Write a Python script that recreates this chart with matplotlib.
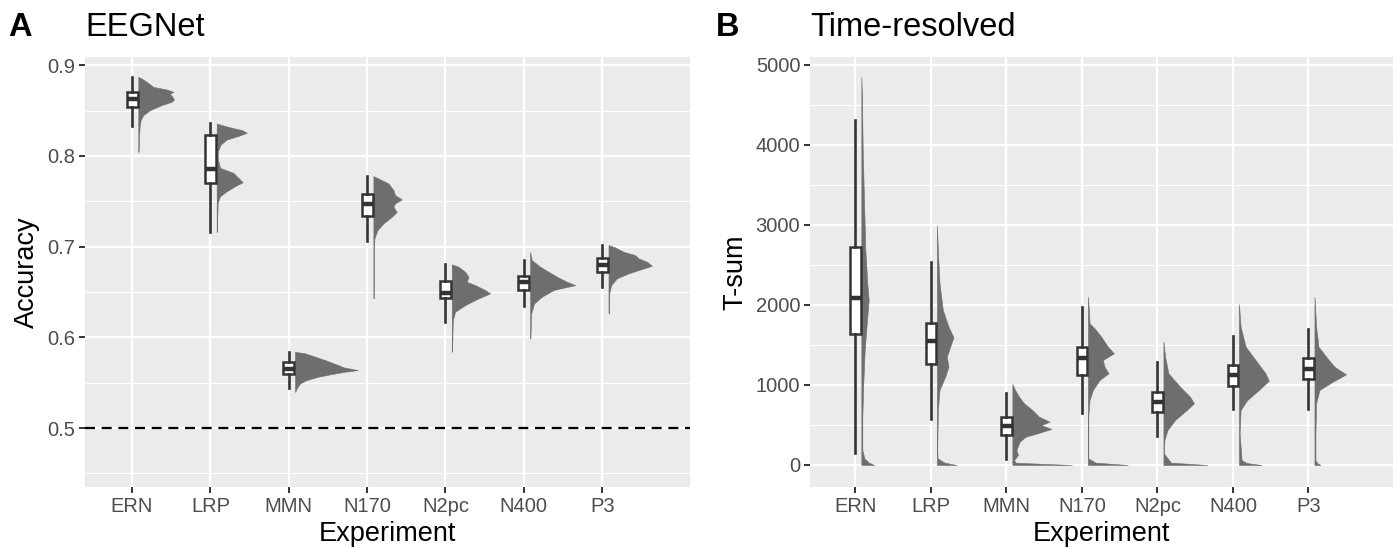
import matplotlib.pyplot as plt
from matplotlib.ticker import MultipleLocator

plt.rcParams['font.family'] = ['Liberation Sans', 'DejaVu Sans']

experiments = ["ERN", "LRP", "MMN", "N170", "N2pc", "N400", "P3"]

# box stats per experiment: lower whisker, q1, median, q3, upper whisker
acc_box = [
    [0.833, 0.854, 0.8625, 0.8706, 0.887],
    [0.7163, 0.7696, 0.785, 0.8229, 0.8357],
    [0.5437, 0.5592, 0.5655, 0.573, 0.5841],
    [0.7064, 0.7336, 0.7465, 0.7578, 0.7777],
    [0.6171, 0.6429, 0.6488, 0.6624, 0.6804],
    [0.6344, 0.6521, 0.661, 0.6679, 0.6851],
    [0.6557, 0.6723, 0.680, 0.687, 0.7017],
]
tsum_box = [
    [146, 1638, 2083, 2721, 4312],
    [571, 1258, 1550, 1779, 2542],
    [71, 375, 487, 596, 896],
    [646, 1125, 1333, 1479, 1971],
    [362, 658, 792, 917, 1283],
    [696, 987, 1125, 1250, 1612],
    [696, 1071, 1196, 1333, 1696],
]

# half-violin outlines: y values and density width (x units)
acc_vio_y = [
    [0.887, 0.8853, 0.8816, 0.876, 0.8732, 0.8706, 0.8688, 0.8658, 0.8622, 0.8596, 0.856, 0.8504, 0.845, 0.8394, 0.832, 0.821, 0.8045],
    [0.8357, 0.834, 0.831, 0.8285, 0.8255, 0.8226, 0.818, 0.8125, 0.805, 0.796, 0.7868, 0.7813, 0.7758, 0.771, 0.7666, 0.761, 0.7555, 0.748, 0.7163],
    [0.5841, 0.5823, 0.5793, 0.5749, 0.5713, 0.5694, 0.5669, 0.5639, 0.5621, 0.5595, 0.5566, 0.5529, 0.5493, 0.5437, 0.54],
    [0.7777, 0.7751, 0.7696, 0.7622, 0.7567, 0.752, 0.7476, 0.7439, 0.7383, 0.7328, 0.7255, 0.7182, 0.709, 0.696, 0.643],
    [0.6804, 0.6778, 0.6723, 0.6668, 0.6612, 0.6576, 0.6521, 0.6484, 0.6429, 0.6355, 0.6282, 0.619, 0.5841],
    [0.6943, 0.6851, 0.6778, 0.6723, 0.6668, 0.6612, 0.6576, 0.6521, 0.6447, 0.6374, 0.6264, 0.5988],
    [0.7017, 0.6991, 0.6943, 0.6906, 0.687, 0.6833, 0.6789, 0.6741, 0.6705, 0.665, 0.6576, 0.6484, 0.6264],
]
acc_vio_w = [
    [0, 0.043, 0.107, 0.192, 0.362, 0.448, 0.405, 0.43, 0.455, 0.426, 0.298, 0.149, 0.064, 0.03, 0.017, 0.009, 0.004],
    [0, 0.064, 0.192, 0.32, 0.384, 0.298, 0.128, 0.051, 0.015, 0.015, 0.043, 0.213, 0.277, 0.332, 0.234, 0.128, 0.043, 0.013, 0.004],
    [0, 0.128, 0.234, 0.384, 0.49, 0.554, 0.618, 0.801, 0.639, 0.469, 0.298, 0.149, 0.064, 0.021, 0.004],
    [0, 0.064, 0.192, 0.256, 0.277, 0.362, 0.277, 0.256, 0.298, 0.234, 0.128, 0.051, 0.013, 0.006, 0.004],
    [0, 0.085, 0.17, 0.213, 0.192, 0.298, 0.426, 0.49, 0.341, 0.17, 0.043, 0.013, 0.004],
    [0, 0.021, 0.128, 0.234, 0.341, 0.469, 0.575, 0.298, 0.149, 0.051, 0.013, 0.004],
    [0, 0.085, 0.192, 0.341, 0.384, 0.49, 0.554, 0.384, 0.256, 0.107, 0.034, 0.009, 0.004],
]
tsum_vio_y = [
    [4854, 4562, 3937, 3312, 2687, 2271, 2062, 1854, 1437, 1021, 604, 187, 83, 30, 0],
    [3000, 2687, 2271, 1937, 1729, 1596, 1479, 1354, 1229, 1104, 937, 687, 187, 83, 30, 0],
    [1012, 937, 854, 771, 687, 604, 541, 500, 450, 396, 354, 292, 187, 125, 62, 29, 0],
    [2104, 1937, 1771, 1708, 1604, 1479, 1396, 1312, 1229, 1146, 1062, 937, 812, 604, 83, 30, 0],
    [1542, 1354, 1146, 979, 854, 771, 687, 562, 437, 312, 146, 30, 0],
    [2012, 1729, 1479, 1312, 1146, 1054, 937, 812, 687, 396, 62, 25, 0],
    [2104, 1729, 1479, 1354, 1229, 1133, 1042, 937, 771, 396, 62, 25, 0],
]
tsum_vio_w = [
    [0, 0.009, 0.018, 0.035, 0.053, 0.079, 0.097, 0.079, 0.044, 0.026, 0.013, 0.013, 0.04, 0.1, 0.17],
    [0, 0.013, 0.035, 0.079, 0.154, 0.22, 0.176, 0.132, 0.154, 0.11, 0.035, 0.013, 0.005, 0.01, 0.1, 0.26],
    [0, 0.035, 0.088, 0.154, 0.264, 0.352, 0.493, 0.383, 0.515, 0.33, 0.176, 0.097, 0.053, 0.075, 0.022, 0.044, 0.79],
    [0, 0.013, 0.022, 0.088, 0.176, 0.264, 0.343, 0.198, 0.22, 0.273, 0.154, 0.066, 0.022, 0.005, 0.005, 0.1, 0.53],
    [0, 0.022, 0.066, 0.22, 0.352, 0.405, 0.308, 0.154, 0.053, 0.013, 0.005, 0.1, 0.58],
    [0, 0.022, 0.088, 0.22, 0.352, 0.396, 0.264, 0.11, 0.022, 0.009, 0.035, 0.1, 0.3],
    [0, 0.022, 0.053, 0.154, 0.264, 0.418, 0.242, 0.066, 0.022, 0.013, 0.013, 0.035, 0.08],
]

DARK = "#333333"
VIOLIN = "#6E6E6E"


def raincloud(ax, box, vio_y, vio_w, ylim, major, minor):
    ax.set_facecolor("#EBEBEB")
    for s in ax.spines.values():
        s.set_visible(False)
    pos = list(range(1, len(experiments) + 1))

    # half violins, nudged to the right of the box
    for p, vy, vw in zip(pos, vio_y, vio_w):
        base = p + 0.08
        ax.fill_betweenx(vy, base, [base + w for w in vw],
                         color=VIOLIN, lw=0.4, zorder=2)

    stats = [dict(whislo=b[0], q1=b[1], med=b[2], q3=b[3], whishi=b[4], fliers=[])
             for b in box]
    ax.bxp(stats, positions=pos, widths=0.14, patch_artist=True,
           showcaps=False, showfliers=False,
           boxprops=dict(facecolor="white", edgecolor=DARK, lw=1.8),
           whiskerprops=dict(color=DARK, lw=1.9),
           medianprops=dict(color=DARK, lw=3.2, solid_capstyle="butt"),
           zorder=3)

    ax.set_xlim(0.4, 8.12)
    ax.set_ylim(*ylim)
    ax.set_xticks(pos)
    ax.set_xticklabels(experiments)
    ax.yaxis.set_major_locator(MultipleLocator(major))
    ax.yaxis.set_minor_locator(MultipleLocator(minor))
    ax.grid(which="major", color="white", lw=1.6, zorder=0)
    ax.grid(which="minor", axis="y", color="white", lw=0.8, zorder=0)
    ax.set_axisbelow(True)
    ax.tick_params(which="major", length=4, width=1.4, color=DARK,
                   labelcolor="#4D4D4D", labelsize=14.5, pad=3)
    ax.tick_params(which="minor", length=0)
    ax.set_xlabel("Experiment", fontsize=19.5, labelpad=4)


fig = plt.figure(figsize=(13.98, 5.48), dpi=100)
W, H = 1398, 548

ax_a = fig.add_axes([85 / W, 1 - 487 / H, 605 / W, 430 / H])
raincloud(ax_a, acc_box, acc_vio_y, acc_vio_w, (0.435, 0.909), 0.1, 0.05)
ax_a.axhline(0.5, color="black", lw=1.6, ls=(0, (4.5, 3)), zorder=1)
ax_a.yaxis.set_major_formatter(lambda v, _: f"{v:.1f}")
ax_a.set_ylabel("Accuracy", fontsize=19.5, labelpad=5)

ax_b = fig.add_axes([810 / W, 1 - 487 / H, 583 / W, 430 / H])
raincloud(ax_b, tsum_box, tsum_vio_y, tsum_vio_w, (-275, 5100), 1000, 500)
ax_b.set_ylabel("T-sum", fontsize=19.5, labelpad=5)

fig.text(8 / W, 1 - 36 / H, "A", fontsize=23.5, fontweight="bold")
fig.text(85 / W, 1 - 36 / H, "EEGNet", fontsize=23.5)
fig.text(716 / W, 1 - 36 / H, "B", fontsize=23.5, fontweight="bold")
fig.text(810 / W, 1 - 36 / H, "Time-resolved", fontsize=23.5)

fig.savefig("out.png", dpi=100)
